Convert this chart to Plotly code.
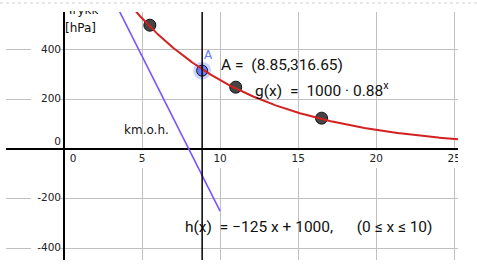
import numpy as np
import plotly.graph_objects as go

# ---- data ----
g_a = 1000.0          # g(x) = a * b^x
g_b = 0.88
h_slope = -125.0      # h(x) = slope*x + intercept, 0<=x<=10
h_intercept = 1000.0
h_domain = [0, 10]
meas_x = [5.5, 11.0, 16.5]
meas_y = [500, 250, 125]
A_x = [8.85]
A_y = [316.65]
x_ticks = [0, 5, 10, 15, 20, 25]
y_ticks = [-400, -200, 0, 200, 400]

# ---- geometry helpers (pixel -> data) ----
X0, SX = 64.0, 15.61
Y0, SY = 149.15, 0.2479
L, R, T, B = 6, 458, 12, 260
def dx(px): return (px - X0) / SX
def dy(py): return (Y0 - py) / SY

fig = go.Figure()

# measured points (drawn under the curve)
fig.add_trace(go.Scatter(x=meas_x, y=meas_y, mode="markers",
    marker=dict(size=12, color="#454545", line=dict(color="#111111", width=1)),
    hoverinfo="skip", showlegend=False))

# point A with halo
fig.add_trace(go.Scatter(x=A_x, y=A_y, mode="markers",
    marker=dict(size=18, color="rgba(102,128,255,0.35)", line=dict(width=0)),
    hoverinfo="skip", showlegend=False))
fig.add_trace(go.Scatter(x=A_x, y=A_y, mode="markers",
    marker=dict(size=11, color="#6680ff", line=dict(color="#111111", width=1)),
    hoverinfo="skip", showlegend=False))

# g curve
gx = np.linspace(dx(L), dx(R) + 0.5, 400)
gy = g_a * g_b ** gx
fig.add_trace(go.Scatter(x=gx, y=gy, mode="lines",
    line=dict(color="#d42020", width=2), hoverinfo="skip", showlegend=False))

# h line
hx = np.array(h_domain, dtype=float)
hy = h_slope * hx + h_intercept
fig.add_trace(go.Scatter(x=hx, y=hy, mode="lines",
    line=dict(color="#7b55ff", width=1.6), hoverinfo="skip", showlegend=False))

shapes = []
# white boxes behind tick labels (break the gridlines)
for v in y_ticks:
    if v == 0:
        continue
    shapes.append(dict(type="rect", layer="between", xref="x", yref="y",
        x0=dx(31), x1=dx(59), y0=v - 7 / SY, y1=v + 7 / SY,
        fillcolor="white", line=dict(width=0)))
for v in x_ticks:
    if v == 0:
        continue
    shapes.append(dict(type="rect", layer="between", xref="x", yref="y",
        x0=v - 6 / SX, x1=v + 6 / SX, y0=dy(168), y1=dy(150.5),
        fillcolor="white", line=dict(width=0)))
# vertical line through A
shapes.append(dict(type="line", layer="above", xref="x", yref="paper",
    x0=A_x[0], x1=A_x[0], y0=0, y1=1, line=dict(color="black", width=1.5)))
# dotted frame line at top
shapes.append(dict(type="line", xref="paper", yref="paper",
    x0=-L / (R - L), x1=(477 - L) / (R - L), y0=1 + 9 / (B - T), y1=1 + 9 / (B - T),
    line=dict(color="#d0d0d0", width=1, dash="dot")))

# tick labels as clipped text traces
tick_font = dict(family="DejaVu Sans", size=10.5, color="#222222")
xl_x = [v if v != 0 else dx(73) for v in x_ticks]
fig.add_trace(go.Scatter(x=xl_x, y=[dy(159)] * len(x_ticks), mode="text",
    text=[str(v) for v in x_ticks], textposition="middle center",
    textfont=tick_font, cliponaxis=True, hoverinfo="skip", showlegend=False))
yl_y = [v if v != 0 else dy(142.5) for v in y_ticks]
fig.add_trace(go.Scatter(x=[dx(61)] * len(y_ticks), y=yl_y, mode="text",
    text=[str(v) for v in y_ticks], textposition="middle left",
    textfont=tick_font, cliponaxis=True, hoverinfo="skip", showlegend=False))

# axis title: second line
fig.add_trace(go.Scatter(x=[dx(65)], y=[dy(28.5)], mode="text",
    text=["[hPa]"], textposition="middle right",
    textfont=dict(family="DejaVu Sans", size=12, color="#111111"),
    cliponaxis=True, hoverinfo="skip", showlegend=False))

# texts
S2 = "\u2002"
txt_font = dict(family="Roboto", size=15.5, color="#111111")
fig.add_trace(go.Scatter(
    x=[dx(221), dx(255), dx(185)],
    y=[dy(66.5), dy(92), dy(228)],
    mode="text",
    text=["A =" + S2 + "(8.85,316.65)",
          "g(x)" + S2 + "=" + S2 + "1000 · 0.88<sup>x</sup>",
          "h(x)" + S2 + "= −125 x + 1000," + "\u2003\u2002" + "(0 ≤ x ≤ 10)"],
    textposition="middle right", textfont=txt_font,
    cliponaxis=False, hoverinfo="skip", showlegend=False))
fig.add_trace(go.Scatter(x=[dx(124)], y=[dy(131)], mode="text",
    text=["km.o.h."], textposition="middle right",
    textfont=dict(family="DejaVu Sans", size=12, color="#111111"),
    cliponaxis=False, hoverinfo="skip", showlegend=False))
fig.add_trace(go.Scatter(x=[dx(204)], y=[dy(56)], mode="text",
    text=["A"], textposition="middle right",
    textfont=dict(family="DejaVu Sans", size=12, color="#6680ff"),
    cliponaxis=False, hoverinfo="skip", showlegend=False))

# axis title first line, cut off at the top edge of the view
annotations = [dict(
    text="Trykk", xref="x", yref="y", x=dx(65), y=dy(18),
    xanchor="left", yanchor="bottom", height=6, valign="bottom",
    borderpad=0, showarrow=False, align="left",
    font=dict(family="DejaVu Sans", size=12, color="#111111"))]

fig.update_layout(
    width=477, height=280,
    margin=dict(l=L, r=477 - R, t=T, b=280 - B),
    paper_bgcolor="white", plot_bgcolor="white",
    showlegend=False, shapes=shapes, annotations=annotations,
    xaxis=dict(range=[dx(L), dx(R)], tick0=0, dtick=5, showgrid=True,
               gridcolor="#c0c0c0", gridwidth=1, zeroline=True,
               zerolinecolor="black", zerolinewidth=1.5,
               showticklabels=False, ticks="", showline=False, fixedrange=True),
    yaxis=dict(range=[dy(B), dy(T)], tick0=0, dtick=200, showgrid=True,
               gridcolor="#c0c0c0", gridwidth=1, zeroline=True,
               zerolinecolor="black", zerolinewidth=1.5,
               showticklabels=False, ticks="", showline=False, fixedrange=True),
)

fig.write_html("out.html")
